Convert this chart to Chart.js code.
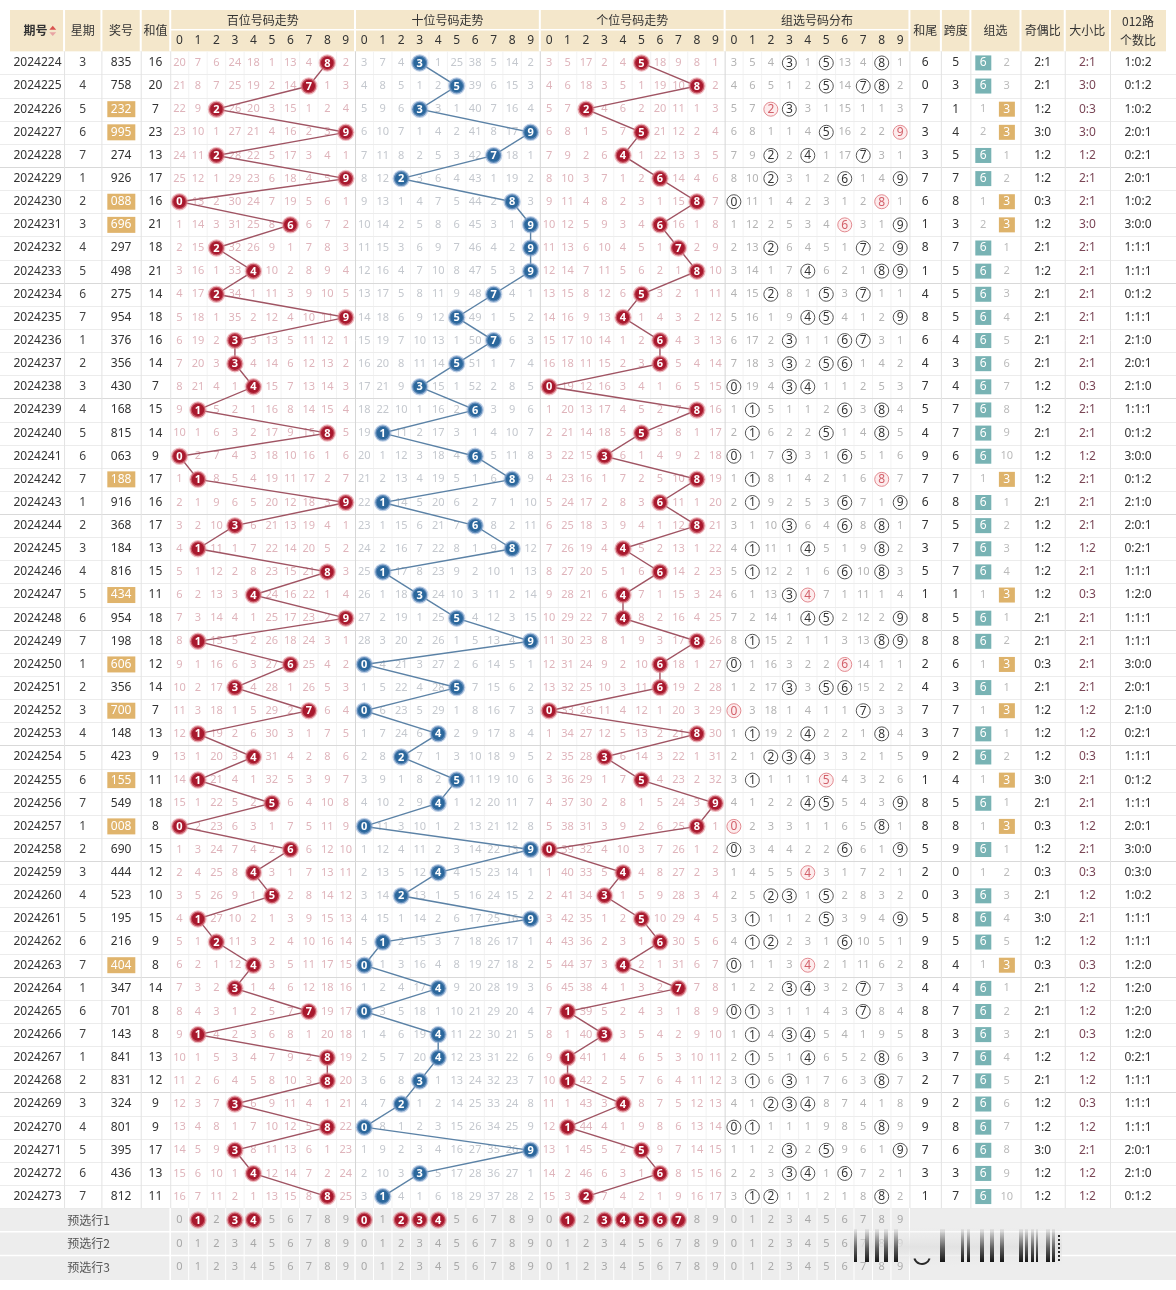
<!DOCTYPE html>
<html>
<head>
<meta charset="utf-8">
<script src="https://cdn.jsdelivr.net/npm/chart.js@4.4.1/dist/chart.umd.min.js"></script>
<style>
html, body { margin: 0; padding: 0; background: #fff; }
canvas { display: block; }
</style>
</head>
<body>
<canvas id="trend" width="1176" height="1290"></canvas>
<script>
// draw data
var issues = ['2024224','2024225','2024226','2024227','2024228','2024229','2024230','2024231','2024232','2024233',
  '2024234','2024235','2024236','2024237','2024238','2024239','2024240','2024241','2024242','2024243',
  '2024244','2024245','2024246','2024247','2024248','2024249','2024250','2024251','2024252','2024253',
  '2024254','2024255','2024256','2024257','2024258','2024259','2024260','2024261','2024262','2024263',
  '2024264','2024265','2024266','2024267','2024268','2024269','2024270','2024271','2024272','2024273']
var weeks = [3,4,5,6,7,1,2,3,4,5, 6,7,1,2,3,4,5,6,7,1, 2,3,4,5,6,7,1,2,3,4, 5,6,7,1,2,3,4,5,6,7, 1,6,7,1,2,3,4,5,6,7]
var draws = ['835','758','232','995','274','926','088','696','297','498',
  '275','954','376','356','430','168','815','063','188','916',
  '368','184','816','434','954','198','606','356','700','148',
  '423','155','549','008','690','444','523','195','216','404',
  '347','701','143','841','831','324','801','395','436','812']
var sums = [16,20,7,23,13,17,16,21,18,21, 14,18,16,14,7,15,14,9,17,16, 17,13,15,11,18,18,12,14,7,13,
  9,11,18,8,15,12,10,15,9,8, 14,8,8,13,12,9,9,17,13,11]
var sumTails = [6,0,7,3,3,7,6,1,8,1, 4,8,6,4,7,5,4,9,7,6, 7,3,5,1,8,8,2,4,7,3, 9,1,8,8,5,2,0,5,9,8, 4,8,8,3,2,9,9,7,3,1]
var spans = [5,3,1,4,5,7,8,3,7,5, 5,5,4,3,4,7,7,6,7,8, 5,7,7,1,5,8,6,3,7,7, 2,4,5,8,9,0,3,8,5,4, 4,7,3,7,7,2,8,6,3,7]
var oddEven = ['2:1','2:1','1:2','3:0','1:2','1:2','0:3','1:2','2:1','1:2',
  '2:1','2:1','2:1','2:1','1:2','1:2','2:1','1:2','1:2','2:1',
  '1:2','1:2','1:2','1:2','2:1','2:1','0:3','2:1','1:2','1:2',
  '1:2','3:0','2:1','0:3','1:2','0:3','2:1','3:0','1:2','0:3',
  '2:1','2:1','2:1','1:2','2:1','1:2','1:2','3:0','1:2','1:2']
var bigSmall = ['2:1','3:0','0:3','3:0','1:2','2:1','2:1','3:0','2:1','2:1',
  '2:1','2:1','2:1','2:1','0:3','2:1','2:1','1:2','2:1','2:1',
  '2:1','1:2','2:1','0:3','2:1','2:1','2:1','2:1','1:2','1:2',
  '0:3','2:1','2:1','1:2','2:1','0:3','1:2','2:1','1:2','0:3',
  '1:2','1:2','0:3','1:2','1:2','0:3','1:2','2:1','1:2','1:2']
var road012 = ['1:0:2','0:1:2','1:0:2','2:0:1','0:2:1','2:0:1','1:0:2','3:0:0','1:1:1','1:1:1',
  '0:1:2','1:1:1','2:1:0','2:0:1','2:1:0','1:1:1','0:1:2','3:0:0','0:1:2','2:1:0',
  '2:0:1','0:2:1','1:1:1','1:2:0','1:1:1','1:1:1','3:0:0','2:0:1','2:1:0','0:2:1',
  '1:1:1','0:1:2','1:1:1','2:0:1','3:0:0','0:3:0','1:0:2','1:1:1','1:1:1','1:2:0',
  '1:2:0','1:2:0','1:2:0','0:2:1','1:1:1','1:1:1','1:1:1','2:0:1','2:1:0','0:1:2']

// omission counts shown on the first row (0 = drawn); later rows carry on from these
var baiStart = [20,7,6,24,18,1,13,4,0,2]
var shiStart = [3,7,4,0,1,25,38,5,14,2]
var geStart = [3,5,17,2,4,0,18,9,8,1]
var zuStart = [3,5,4,0,1,0,13,4,0,1]
var zu6Start = 0
var zu3Start = 2

// 预选行1 picks
var pickBai = [1,3,4]
var pickShi = [0,2,3,4]
var pickGe = [1,3,4,5,6,7]

// layout
var W = 1176, H = 1290
var headH = 42, rowH = 23.5, footH = 24
var footTop = headH + rowH * draws.length
var cellW = 18.8
var secX = [163, 351, 539, 727]
var FONT = '"Noto Sans", "Noto Sans CJK SC", sans-serif'
var CJK = '"Noto Sans CJK SC", "Noto Sans", sans-serif'

function rowY(i) { return headH + rowH * (i + 0.5) }
function footY(k) { return footTop + footH * (k + 0.5) }
function digitX(s, d) { return secX[s] + cellW * (d + 0.5) }

function omitRows(start, pos) {
  var rows = [], cur = start.slice()
  draws.forEach(function (n, i) {
    var hit = +n[pos]
    if (i > 0) cur = cur.map(function (v, d) { return d === hit ? 0 : v + 1 })
    rows.push(cur.slice())
  })
  return rows
}
function digitCount(n) {
  var cnt = [0,0,0,0,0,0,0,0,0,0]
  n.split('').forEach(function (c) { cnt[+c]++ })
  return cnt
}
function groupType(n) {
  var k = digitCount(n).filter(function (v) { return v > 0 }).length
  return k === 3 ? '6' : (k === 2 ? '3' : 'B')
}

var omit = [omitRows(baiStart, 0), omitRows(shiStart, 1), omitRows(geStart, 2)]
var zuOmit = []
var zuGroup = []
;(function () {
  var cur = zuStart.slice(), g6 = zu6Start, g3 = zu3Start
  draws.forEach(function (n, i) {
    var cnt = digitCount(n), t = groupType(n)
    if (i > 0) {
      cur = cur.map(function (v, d) { return cnt[d] ? 0 : v + 1 })
      g6 = t === '6' ? 0 : g6 + 1
      g3 = t === '3' ? 0 : g3 + 1
    }
    zuOmit.push(cur.slice())
    zuGroup.push({ t: t, g6: g6, g3: g3 })
  })
})()

function trendData(pos) {
  return draws.map(function (n, i) {
    return { x: digitX(pos, +n[pos]), y: rowY(i), d: +n[pos] }
  })
}
var zuPoints = []
draws.forEach(function (n, i) {
  var cnt = digitCount(n)
  cnt.forEach(function (c, d) {
    if (c) zuPoints.push({ x: digitX(3, d), y: rowY(i), d: d, dbl: c > 1 })
  })
})
var pickPoints = []
;[pickBai, pickShi, pickGe].forEach(function (arr, s) {
  arr.forEach(function (d) { pickPoints.push({ x: digitX(s, d), y: footY(0), d: d }) })
})

function lineSet(pos, ball, line, halo) {
  return {
    data: trendData(pos),
    showLine: true,
    borderColor: line,
    borderWidth: 1.4,
    pointRadius: 7.5,
    pointBackgroundColor: ball,
    pointBorderColor: halo,
    pointBorderWidth: 2.5,
    labelColor: '#fff',
    labelFont: 'bold 11px ' + FONT
  }
}

function txt(c, s, x, y, color, font) {
  c.fillStyle = color
  c.font = font
  c.fillText(s, x, y)
}

var tablePlugin = {
  id: 'table',
  beforeDatasetsDraw: function (chart) {
    var c = chart.ctx, sx = chart.scales.x, sy = chart.scales.y
    function X(v) { return sx.getPixelForValue(v) }
    function Y(v) { return sy.getPixelForValue(v) }
    function seg(x1, y1, x2, y2, color, w) {
      c.strokeStyle = color; c.lineWidth = w || 1
      c.beginPath(); c.moveTo(x1, y1); c.lineTo(x2, y2); c.stroke()
    }
    c.save()
    c.fillStyle = '#fff'
    c.fillRect(0, 0, W, H)
    c.textAlign = 'center'
    c.textBaseline = 'middle'

    // header
    c.fillStyle = '#f4e7cb'
    c.fillRect(X(0), Y(0), X(W) - X(0), Y(headH) - Y(0))
    var hb = [55, 93, 133, 163, 351, 539, 727, 915, 947, 977, 1028, 1073, 1119]
    hb.forEach(function (v) { seg(X(v), Y(0), X(v), Y(headH), '#fff', 2) })
    seg(X(163), Y(20), X(915), Y(20), '#fff', 1.5)
    var hf = '12px ' + CJK
    txt(c, '期号', X(26), Y(21), '#333', 'bold 12px ' + CJK)
    // sort icon
    c.fillStyle = '#d9534f'
    c.beginPath(); c.moveTo(X(40), Y(20)); c.lineTo(X(47), Y(20)); c.lineTo(X(43.5), Y(16)); c.fill()
    c.fillStyle = '#e8a3a3'
    c.beginPath(); c.moveTo(X(40), Y(22.5)); c.lineTo(X(47), Y(22.5)); c.lineTo(X(43.5), Y(26.5)); c.fill()
    txt(c, '星期', X(74), Y(21), '#333', hf)
    txt(c, '奖号', X(113), Y(21), '#333', hf)
    txt(c, '和值', X(148), Y(21), '#333', hf)
    var titles = ['百位号码走势', '十位号码走势', '个位号码走势', '组选号码分布']
    titles.forEach(function (t, s) {
      txt(c, t, X(secX[s] + cellW * 5), Y(10.5), '#333', hf)
      for (var d = 0; d < 10; d++) txt(c, String(d), X(digitX(s, d)), Y(31), '#333', '12px ' + FONT)
    })
    txt(c, '和尾', X(931), Y(21), '#333', hf)
    txt(c, '跨度', X(962), Y(21), '#333', hf)
    txt(c, '组选', X(1002.5), Y(21), '#333', hf)
    txt(c, '奇偶比', X(1050.5), Y(21), '#333', hf)
    txt(c, '大小比', X(1096), Y(21), '#333', hf)
    txt(c, '012路', X(1147.5), Y(12), '#333', hf)
    txt(c, '个数比', X(1147.5), Y(31), '#333', hf)

    // grid of the data rows
    var top = Y(headH), bot = Y(footTop)
    for (var s = 0; s < 4; s++) {
      for (var d = 1; d < 10; d++) {
        var gx = X(secX[s] + cellW * d)
        seg(gx, top, gx, bot, '#f3f3f3', 1)
      }
    }
    for (var i = 1; i <= draws.length; i++) {
      var gy = Math.round(Y(headH + rowH * i)) + 0.5
      seg(0, gy, W, gy, i % 5 === 0 ? '#d9d9d9' : '#ececec', 1)
    }
    ;[55, 93, 133, 163, 915, 947, 977, 1028, 1073, 1119].forEach(function (v) {
      seg(X(v) + 0.5, top, X(v) + 0.5, bot, '#e3e3e3', 1)
    })
    ;[351, 539, 727].forEach(function (v) { seg(X(v) + 0.5, top, X(v) + 0.5, bot, '#d6d6d6', 1) })

    // row texts
    var nf = '12px ' + FONT, of = '11px ' + FONT
    var omitColor = ['#dfb4bb', '#c4c8ce', '#dfb4bb']
    draws.forEach(function (n, i) {
      var y = Y(rowY(i))
      txt(c, issues[i], X(28), y, '#333', nf)
      txt(c, String(weeks[i]), X(74), y, '#444', nf)
      var g = zuGroup[i]
      if (g.t === '3') {
        c.fillStyle = '#e0b46c'
        c.fillRect(X(99), y - 8, 28, 16)
        txt(c, n, X(113), y, '#fff', nf)
      } else {
        txt(c, n, X(113), y, '#333', nf)
      }
      txt(c, String(sums[i]), X(148), y, '#333', nf)
      for (var s = 0; s < 3; s++) {
        omit[s][i].forEach(function (v, d) {
          if (v > 0) txt(c, String(v), X(digitX(s, d)), y, omitColor[s], of)
        })
      }
      zuOmit[i].forEach(function (v, d) {
        if (v > 0) txt(c, String(v), X(digitX(3, d)), y, '#b3b3b3', of)
      })
      txt(c, String(sumTails[i]), X(931), y, '#333', nf)
      txt(c, String(spans[i]), X(962), y, '#333', nf)
      if (g.t === '6') {
        c.fillStyle = '#78b3b4'
        c.fillRect(X(982), y - 7.5, 16, 15)
        txt(c, '6', X(990), y, '#fff', nf)
      } else {
        txt(c, String(g.g6), X(990), y, '#bbb', of)
      }
      if (g.t === '3') {
        c.fillStyle = '#deb36b'
        c.fillRect(X(1006), y - 7.5, 16, 15)
        txt(c, '3', X(1014), y, '#fff', nf)
      } else {
        txt(c, String(g.g3), X(1014), y, '#bbb', of)
      }
      txt(c, oddEven[i], X(1050.5), y, '#333', nf)
      txt(c, bigSmall[i], X(1096), y, '#7a4656', nf)
      txt(c, road012[i], X(1147.5), y, '#333', nf)
    })

    // footer rows
    c.fillStyle = '#ededed'
    c.fillRect(0, Y(footTop), W, Y(H) - Y(footTop))
    for (var k = 1; k < 3; k++) seg(0, Y(footTop + footH * k), W, Y(footTop + footH * k), '#fff', 1.5)
    seg(X(163), Y(footTop), X(163), Y(H), '#fff', 1.5)
    for (var s2 = 0; s2 < 4; s2++) {
      for (var d2 = 0; d2 <= 10; d2++) {
        var fx = X(secX[s2] + cellW * d2)
        seg(fx, Y(footTop), fx, Y(H), '#fff', 1)
      }
    }
    for (var k2 = 0; k2 < 3; k2++) {
      var fy = Y(footY(k2))
      txt(c, '预选行' + (k2 + 1), X(80), fy, '#555', '12px ' + CJK)
      for (var s3 = 0; s3 < 4; s3++) {
        for (var d3 = 0; d3 < 10; d3++) {
          txt(c, String(d3), X(digitX(s3, d3)), fy, '#a8a8a8', of)
        }
      }
    }
    c.restore()
  },
  afterDatasetsDraw: function (chart) {
    var c = chart.ctx
    c.save()
    c.textAlign = 'center'
    c.textBaseline = 'middle'
    chart.data.datasets.forEach(function (ds, k) {
      if (!ds.labelColor) return
      var meta = chart.getDatasetMeta(k)
      meta.data.forEach(function (el, j) {
        var raw = ds.data[j]
        var color = typeof ds.labelColor === 'function' ? ds.labelColor(raw) : ds.labelColor
        txt(c, String(raw.d), el.x, el.y + 0.5, color, ds.labelFont)
      })
    })
    c.restore()
  },
  afterDraw: function (chart) {
    // blurred bar stamp over the lower right cells
    var c = chart.ctx
    c.save()
    var g0 = c.createLinearGradient(0, 1226, 0, 1268)
    g0.addColorStop(0, 'rgba(236,236,236,0)')
    g0.addColorStop(0.5, 'rgba(225,225,225,0.9)')
    g0.addColorStop(1, 'rgba(236,236,236,0)')
    c.fillStyle = g0
    c.fillRect(850, 1226, 212, 42)
    var bars = [[854,3],[865,4],[875,4],[884,4],[894,4],[940,5],[961,3],[967,3],[980,4],[990,4],[1000,4],[1019,4],[1025,3],[1031,3],[1036,2],[1046,4],[1052,3]]
    bars.forEach(function (b) {
      var g = c.createLinearGradient(0, 1229, 0, 1262)
      g.addColorStop(0, 'rgba(30,30,30,0.05)')
      g.addColorStop(0.6, 'rgba(30,30,30,0.7)')
      g.addColorStop(1, 'rgba(10,10,10,0.95)')
      c.fillStyle = g
      c.fillRect(b[0], 1229, b[1], 33)
    })
    c.strokeStyle = 'rgba(20,20,20,0.9)'
    c.lineWidth = 2
    c.beginPath()
    c.arc(922, 1256, 8, 0.1 * Math.PI, 0.9 * Math.PI)
    c.stroke()
    c.fillStyle = 'rgba(20,20,20,0.9)'
    for (var yy = 1235; yy < 1262; yy += 4) c.fillRect(1058, yy, 2, 2)
    c.restore()
  }
}

var zuSet = {
  data: zuPoints,
  showLine: false,
  pointRadius: 7,
  pointBorderWidth: 1,
  pointBackgroundColor: function (ctx) { return ctx.raw && ctx.raw.dbl ? '#fdeced' : '#fff' },
  pointBorderColor: function (ctx) { return ctx.raw && ctx.raw.dbl ? '#e38a90' : '#555' },
  labelColor: function (raw) { return raw.dbl ? '#d2606a' : '#333' },
  labelFont: '12px ' + FONT
}
var pickSet = {
  data: pickPoints,
  showLine: false,
  pointRadius: 7.5,
  pointBackgroundColor: '#a8182d',
  pointBorderColor: 'rgba(225,140,150,0.55)',
  pointBorderWidth: 2.5,
  labelColor: '#fff',
  labelFont: 'bold 11px ' + FONT
}

var chart = new Chart(document.getElementById('trend'), {
  type: 'scatter',
  data: {
    datasets: [
      lineSet(0, '#a8182d', '#a05463', 'rgba(225,140,150,0.55)'),
      lineSet(1, '#2b679c', '#5b82a6', 'rgba(140,170,210,0.55)'),
      lineSet(2, '#a8182d', '#a05463', 'rgba(225,140,150,0.55)'),
      zuSet,
      pickSet
    ]
  },
  options: {
    responsive: false,
    animation: false,
    events: [],
    layout: { padding: 0 },
    plugins: { legend: { display: false }, tooltip: { enabled: false } },
    scales: {
      x: { type: 'linear', min: 0, max: W, display: false },
      y: { type: 'linear', min: 0, max: H, reverse: true, display: false }
    }
  },
  plugins: [tablePlugin]
})
</script>
</body>
</html>
